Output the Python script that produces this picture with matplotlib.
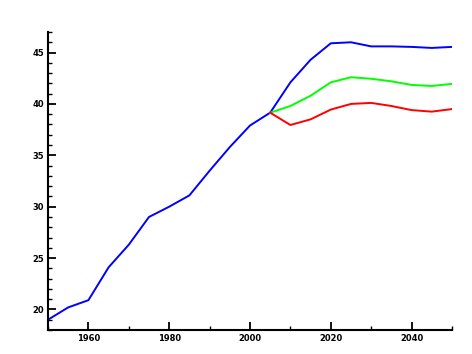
import matplotlib
matplotlib.use("Agg")
import matplotlib.pyplot as plt
from matplotlib.ticker import MultipleLocator

# Historic series (blue) and three projection variants
years_hist = [1950, 1955, 1960, 1965, 1970, 1975, 1980, 1985, 1990, 1995, 2000, 2005]
hist = [19.0, 20.2, 20.9, 24.1, 26.3, 29.0, 30.0, 31.1, 33.5, 35.8, 37.9, 39.15]

years_proj = [2005, 2010, 2015, 2020, 2025, 2030, 2035, 2040, 2045, 2050]
high = [39.15, 42.1, 44.3, 45.9, 46.0, 45.6, 45.6, 45.55, 45.45, 45.55]
medium = [39.15, 39.8, 40.8, 42.1, 42.6, 42.45, 42.2, 41.85, 41.75, 41.95]
low = [39.15, 37.95, 38.5, 39.45, 40.0, 40.1, 39.8, 39.4, 39.25, 39.5]

fig = plt.figure(figsize=(4.72, 3.54), dpi=100)
ax = fig.add_axes([0.1017, 0.0678, 0.8559, 0.8418])

ax.plot(years_hist + years_proj[1:], hist + high[1:], color="#0000ff", lw=1.4)
ax.plot(years_proj, medium, color="#00ff00", lw=1.4)
ax.plot(years_proj, low, color="#ff0000", lw=1.4)

ax.set_xlim(1950, 2050)
ax.set_ylim(18, 47)

ax.xaxis.set_major_locator(MultipleLocator(20))
ax.xaxis.set_minor_locator(MultipleLocator(10))
ax.yaxis.set_major_locator(MultipleLocator(5))
ax.yaxis.set_minor_locator(MultipleLocator(1))

for side in ["top", "right"]:
    ax.spines[side].set_visible(False)
for side in ["left", "bottom"]:
    ax.spines[side].set_linewidth(1.5)

ax.tick_params(which="major", direction="in", length=6, width=1.3, labelsize=6, pad=3)
ax.tick_params(which="minor", direction="in", length=3, width=1.0)
for lab in ax.get_xticklabels() + ax.get_yticklabels():
    lab.set_fontweight("bold")

fig.savefig("out.png", dpi=100)
